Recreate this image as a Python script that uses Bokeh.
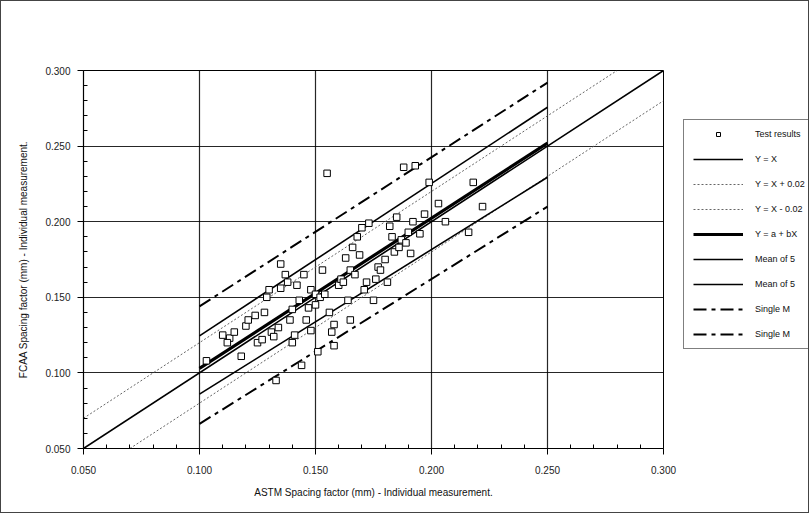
from bokeh.plotting import figure
from bokeh.layouts import row
from bokeh.models import Range1d, FixedTicker, Legend, LegendItem, CustomJSTickFormatter
from bokeh.embed import file_html
from bokeh.resources import INLINE

# ---------------- data ----------------
test_x = [0.103, 0.110, 0.113, 0.115, 0.112, 0.118, 0.120, 0.121, 0.124, 0.125,
          0.127, 0.128, 0.129, 0.130, 0.131, 0.132, 0.133, 0.134, 0.135, 0.135,
          0.137, 0.138, 0.139, 0.140, 0.140, 0.141, 0.142, 0.143, 0.144, 0.145,
          0.146, 0.147, 0.148, 0.148, 0.150, 0.150, 0.151, 0.152, 0.153, 0.154,
          0.155, 0.156, 0.157, 0.158, 0.158, 0.160, 0.161, 0.162, 0.163, 0.164,
          0.165, 0.165, 0.166, 0.167, 0.168, 0.169, 0.170, 0.171, 0.172, 0.173,
          0.175, 0.176, 0.177, 0.178, 0.180, 0.181, 0.182, 0.183, 0.184, 0.185,
          0.186, 0.187, 0.188, 0.189, 0.190, 0.191, 0.192, 0.193, 0.195, 0.197,
          0.199, 0.203, 0.206, 0.216, 0.218, 0.222]
test_y = [0.108, 0.125, 0.123, 0.127, 0.120, 0.111, 0.131, 0.135, 0.138, 0.120,
          0.122, 0.140, 0.150, 0.155, 0.127, 0.124, 0.095, 0.130, 0.156, 0.172,
          0.165, 0.160, 0.135, 0.142, 0.120, 0.125, 0.158, 0.148, 0.105, 0.165,
          0.135, 0.143, 0.155, 0.128, 0.152, 0.145, 0.114, 0.150, 0.168, 0.152,
          0.232, 0.140, 0.127, 0.118, 0.132, 0.158, 0.162, 0.160, 0.176, 0.148,
          0.135, 0.168, 0.183, 0.165, 0.190, 0.178, 0.196, 0.155, 0.160, 0.199,
          0.148, 0.162, 0.170, 0.168, 0.175, 0.160, 0.197, 0.190, 0.180, 0.203,
          0.183, 0.188, 0.236, 0.186, 0.193, 0.179, 0.200, 0.237, 0.192, 0.205,
          0.226, 0.212, 0.200, 0.193, 0.226, 0.210]

diag_x = [0.05, 0.30]
diag_y = [0.05, 0.30]
plus_x = [0.05, 0.28]
plus_y = [0.07, 0.30]
minus_x = [0.07, 0.30]
minus_y = [0.05, 0.28]

band_x = [0.10, 0.25]
reg_y = [0.103, 0.252]
mean_up_y = [0.1245, 0.2757]
mean_lo_y = [0.086, 0.2294]
single_up_y = [0.144, 0.292]
single_lo_y = [0.0663, 0.210]

major_ticks = [0.05, 0.10, 0.15, 0.20, 0.25, 0.30]
minor_ticks = [0.06, 0.07, 0.08, 0.09, 0.11, 0.12, 0.13, 0.14, 0.16, 0.17, 0.18,
               0.19, 0.21, 0.22, 0.23, 0.24, 0.26, 0.27, 0.28, 0.29]

x_title = "ASTM Spacing factor (mm) - Individual measurement."
y_title = "FCAA Spacing factor (mm) - Individual measurement."
legend_labels = ["Test results", "Y = X", "Y = X + 0.02", "Y = X - 0.02", "Y = a + bX",
                 "Mean of 5", "Mean of 5", "Single M", "Single M"]

FONT = "Liberation Sans"

# line styles shared by chart and legend
S_DIAG = dict(line_color="black", line_width=1.6)
S_OFF = dict(line_color="#555555", line_width=0.9, line_dash="2 2")
S_REG = dict(line_color="black", line_width=3.2)
S_MEAN = dict(line_color="black", line_width=1.6)
S_SINGLE = dict(line_color="black", line_width=2, line_dash="13 5 4 5")
S_PTS = dict(marker="square", size=6.5, fill_color="white", line_color="black", line_width=1)


def draw_series(fig):
    """Draw all series onto a figure; returns renderers in legend order."""
    r_diag = fig.line(diag_x, diag_y, **S_DIAG)
    r_plus = fig.line(plus_x, plus_y, **S_OFF)
    r_minus = fig.line(minus_x, minus_y, **S_OFF)
    r_reg = fig.line(band_x, reg_y, **S_REG)
    r_mu = fig.line(band_x, mean_up_y, **S_MEAN)
    r_ml = fig.line(band_x, mean_lo_y, **S_MEAN)
    r_su = fig.line(band_x, single_up_y, **S_SINGLE)
    r_sl = fig.line(band_x, single_lo_y, **S_SINGLE)
    r_pts = fig.scatter(test_x, test_y, **S_PTS)
    return [r_pts, r_diag, r_plus, r_minus, r_reg, r_mu, r_ml, r_su, r_sl]


# ---------------- main figure ----------------
p = figure(width=677, height=511, output_backend="svg", toolbar_location=None,
           x_range=Range1d(0.05, 0.30), y_range=Range1d(0.05, 0.30),
           min_border_left=82, min_border_right=15, min_border_top=69, min_border_bottom=64)
p.background_fill_color = "white"
p.border_fill_color = "white"
p.outline_line_color = "black"
p.outline_line_width = 1

for ax in (p.xaxis[0], p.yaxis[0]):
    ax.ticker = FixedTicker(ticks=major_ticks, minor_ticks=minor_ticks)
    ax.formatter = CustomJSTickFormatter(code="return tick.toFixed(3);")
    ax.axis_line_color = "black"
    ax.axis_line_width = 1.2
    ax.major_tick_line_color = "black"
    ax.major_tick_in = 0
    ax.major_tick_out = 6
    ax.minor_tick_line_color = "black"
    ax.minor_tick_in = 4
    ax.minor_tick_out = 0
    ax.major_label_text_font = FONT
    ax.major_label_text_font_size = "10px"
    ax.major_label_text_color = "#222222"
    ax.axis_label_text_font = FONT
    ax.axis_label_text_font_size = "10px"
    ax.axis_label_text_font_style = "normal"
    ax.axis_label_text_color = "#111111"

p.xaxis[0].axis_label = x_title
p.yaxis[0].axis_label = y_title
p.xaxis[0].major_label_standoff = 11
p.xaxis[0].axis_label_standoff = 10
p.yaxis[0].major_label_standoff = 7
p.yaxis[0].axis_label_standoff = 13

for g in (p.xgrid[0], p.ygrid[0]):
    g.ticker = FixedTicker(ticks=major_ticks)
    g.grid_line_color = "black"
    g.grid_line_width = 1.2
    g.grid_line_alpha = 0.85

draw_series(p)

# ---------------- legend panel ----------------
# Same series drawn again, but the ranges put them out of view: only the legend shows.
lg = figure(width=130, height=511, output_backend="svg", toolbar_location=None,
            x_range=Range1d(1, 2), y_range=Range1d(1, 2),
            x_axis_type=None, y_axis_type=None, min_border=0)
lg.outline_line_color = None
lg.grid.visible = False
lg.background_fill_color = "white"
lg.border_fill_color = "white"

keys = draw_series(lg)
items = [LegendItem(label=lab, renderers=[r]) for lab, r in zip(legend_labels, keys)]
legend = Legend(items=items, location=(5, 99), orientation="vertical",
                glyph_width=50, glyph_height=10, label_height=10, spacing=15,
                padding=9, margin=0,
                label_standoff=12, label_text_font=FONT, label_text_font_size="9px",
                label_text_color="#111111",
                border_line_color="black", border_line_width=1.2,
                background_fill_color="white", background_fill_alpha=1.0)
lg.add_layout(legend, "center")

layout = row(p, lg, styles={"border": "1px solid #444444"})

open("out.html", "w").write(file_html(layout, INLINE))
